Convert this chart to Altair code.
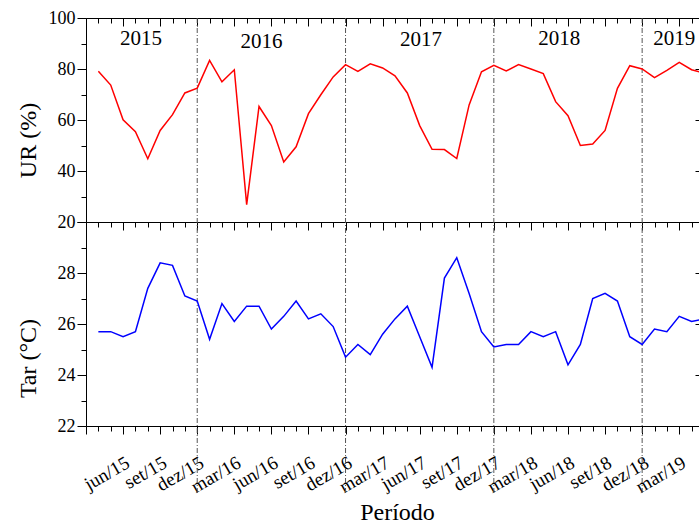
import altair as alt
import pandas as pd

# ---- data -----------------------------------------------------------------
MESES = ["jan", "fev", "mar", "abr", "mai", "jun", "jul", "ago", "set", "out", "nov", "dez"]
# monthly series from abr/15 to mai/19 (m = months counted from jan/15)
PERIODO = [f"{MESES[m % 12]}/{15 + m // 12}" for m in range(3, 53)]
POSICAO = [m - 2 for m in range(3, 53)]  # 0 = mar/15 (left edge of the axis)

# relative humidity (%)
UR = [
    79.1, 73.7, 60.1, 55.4, 44.8, 55.9, 62.1, 70.6, 72.5,
    83.4, 75.0, 79.7, 26.8, 65.3, 57.8, 43.5, 49.5, 62.5, 69.9, 76.9, 81.7,
    79.1, 82.0, 80.4, 77.3, 70.6, 57.8, 48.5, 48.4, 44.9, 65.9, 78.9, 81.4,
    79.2, 81.7, 80.0, 78.2, 67.2, 61.7, 50.0, 50.6, 55.9, 72.4, 81.3, 80.0,
    76.6, 79.5, 82.6, 79.7, 78.4,
]
# air temperature (°C)
TAR = [
    25.7, 25.7, 25.5, 25.7, 27.4, 28.4, 28.3, 27.1, 26.9,
    25.4, 26.8, 26.1, 26.7, 26.7, 25.8, 26.3, 26.9, 26.2, 26.4, 25.9, 24.7,
    25.2, 24.8, 25.6, 26.2, 26.7, 25.5, 24.3, 27.8, 28.6, 27.2, 25.7, 25.1,
    25.2, 25.2, 25.7, 25.5, 25.7, 24.4, 25.2, 27.0, 27.2, 26.9, 25.5, 25.2,
    25.8, 25.7, 26.3, 26.1, 26.2,
]

ROTULOS_X = ["jun/15", "set/15", "dez/15", "mar/16", "jun/16", "set/16", "dez/16",
             "mar/17", "jun/17", "set/17", "dez/17", "mar/18", "jun/18", "set/18",
             "dez/18", "mar/19"]
POS_ROTULOS = [3, 6, 9, 12, 15, 18, 21, 24, 27, 30, 33, 36, 39, 42, 45, 48]

DEZEMBROS = [9, 21, 33, 45]

ANOS = ["2015", "2016", "2017", "2018", "2019"]
ANO_X = [4.45, 14.2, 27.1, 38.3, 47.6]
ANO_Y = [91.9, 90.5, 91.2, 91.9, 91.9]

df = pd.DataFrame({"pos": POSICAO, "periodo": PERIODO, "ur": UR, "tar": TAR})
df_dez = pd.DataFrame({"dez": DEZEMBROS})
df_anos = pd.DataFrame({"ano": ANOS, "x": ANO_X, "y": ANO_Y})

# ---- layout ---------------------------------------------------------------
W, H = 613, 408
PAINEL = H // 2
XMAX = 49.6
FONTE = "Liberation Serif"

xs = alt.Scale(domain=[0, XMAX], nice=False, zero=False)
ys_ur = alt.Scale(domain=[20, 100], range=[PAINEL, 0], nice=False, zero=False)
ys_tar = alt.Scale(domain=[22, 30], range=[H, PAINEL], nice=False, zero=False)

todos_meses = list(range(0, 50))
tick_x = {"condition": {"test": "datum.value % 3 == 0", "value": 8}, "value": 5}

rotulos = [""] * 50
for p, r in zip(POS_ROTULOS, ROTULOS_X):
    rotulos[p] = r
expr_rotulos = "[" + ",".join(f"'{r}'" for r in rotulos) + "][datum.value]"


def eixo_x_linha(offset):
    """Bottom-oriented month axis without labels, shifted up by `offset`."""
    return alt.Axis(orient="bottom", offset=offset, values=todos_meses, labels=False,
                    title=None, grid=False, tickSize=tick_x, tickColor="black",
                    domainColor="black", tickWidth=1, domainWidth=1)


def eixo_direito(valores):
    """Inward ticks on the right edge, no line and no labels."""
    return alt.Axis(orient="right", offset=-4, values=valores, labels=False, title=None,
                    grid=False, domain=False, tickSize=4, tickColor="black")


eixo_x_base = alt.Axis(
    orient="bottom", values=todos_meses, labelExpr=expr_rotulos, labelAngle=-30,
    labelAlign="right", labelBaseline="top", labelPadding=19, labelFont=FONTE,
    labelFontSize=19, labelColor="black", labelOverlap=False, grid=False,
    tickSize=tick_x, tickColor="black", domainColor="black", tickWidth=1, domainWidth=1,
    title="Período", titleFont=FONTE, titleFontSize=24, titleFontWeight="normal",
    titleColor="black", titleX=311, titleY=86, titleBaseline="middle", titleAlign="center",
)

eixo_ur = alt.Axis(
    orient="left", values=list(range(20, 101, 10)),
    labelExpr="datum.value % 20 == 0 ? datum.label : ''",
    tickSize={"condition": {"test": "datum.value % 20 == 0", "value": 9}, "value": 5},
    labelFont=FONTE, labelFontSize=18, labelColor="black", labelPadding=2, grid=False,
    tickColor="black", domainColor="black", title="UR (%)", titleFont=FONTE,
    titleFontSize=24, titleFontWeight="normal", titleColor="black", titleX=-58,
    titleY=122, titleAngle=270, titleBaseline="middle", titleAlign="center",
)

eixo_tar = alt.Axis(
    orient="left", values=list(range(22, 31)),
    labelExpr="datum.value % 2 == 0 && datum.value < 30 ? datum.label : ''",
    tickSize={"condition": {"test": "datum.value % 2 == 0", "value": 9}, "value": 5},
    labelFont=FONTE, labelFontSize=18, labelColor="black", labelPadding=2, grid=False,
    tickColor="black", domainColor="black", title="Tar (°C)", titleFont=FONTE,
    titleFontSize=24, titleFontWeight="normal", titleColor="black", titleX=-58,
    titleY=340, titleAngle=270, titleBaseline="middle", titleAlign="center",
)

# ---- layers ---------------------------------------------------------------
divisorias = alt.Chart(df_dez).mark_rule(
    color="#555555", strokeWidth=1, strokeDash=[5, 2, 1, 2], clip=False
).encode(
    x=alt.X("dez:Q", scale=xs, axis=eixo_x_linha(-PAINEL)),
    y=alt.value(0),
    y2=alt.value(476),
)

linha_ur = alt.Chart(df).mark_line(color="#ff0000", strokeWidth=1.5, clip=True).encode(
    x=alt.X("pos:Q", scale=xs, axis=eixo_x_linha(-H)),
    y=alt.Y("ur:Q", scale=ys_ur, axis=eixo_ur),
)

linha_tar = alt.Chart(df).mark_line(color="#0000ff", strokeWidth=1.5, clip=True).encode(
    x=alt.X("pos:Q", scale=xs, axis=eixo_x_base),
    y=alt.Y("tar:Q", scale=ys_tar, axis=eixo_tar),
)

# invisible copy of the temperature series carrying the right-edge ticks
borda_tar = alt.Chart(df).mark_line(opacity=0, clip=True).encode(
    x=alt.X("pos:Q", scale=xs, axis=None),
    y=alt.Y("tar:Q", scale=ys_tar, axis=eixo_direito([24, 26, 28])),
)

anos = alt.Chart(df_anos).mark_text(
    font=FONTE, fontSize=21, color="black", align="center", baseline="middle"
).encode(
    x=alt.X("x:Q", scale=xs, axis=None),
    y=alt.Y("y:Q", scale=ys_ur, axis=eixo_direito([40, 60, 80])),
    text="ano:N",
)

chart = (
    alt.layer(divisorias, linha_ur, linha_tar, borda_tar, anos)
    .resolve_scale(x="independent", y="independent")
    .resolve_axis(x="independent", y="independent")
    .properties(
        width=W, height=H,
        autosize=alt.AutoSizeParams(type="none"),
        padding={"left": 86, "top": 18, "right": 0, "bottom": 99},
        background="white",
    )
    .configure_view(stroke=None)
)

chart.save("out.html", embed_options={"renderer": "svg", "actions": False})
